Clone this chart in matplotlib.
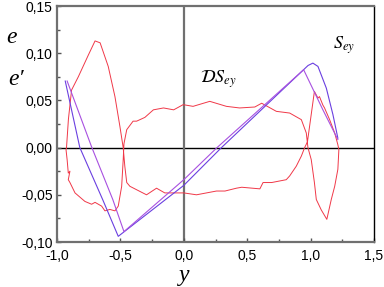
import matplotlib
matplotlib.use("Agg")
import matplotlib.pyplot as plt
from matplotlib.ticker import MultipleLocator, FuncFormatter

# DS_ey (red loop)
ds_x = [-0.925, -0.91, -0.885, -0.832, -0.753, -0.70, -0.66, -0.596, -0.543, -0.504, -0.478,
        -0.465, -0.45, -0.425, -0.294, -0.215, -0.15, 0.0, 0.1, 0.258, 0.325, 0.415, 0.457,
        0.6, 0.625, 0.693, 0.808, 0.835, 0.887, 0.927, 0.953, 0.975, 1.03, 1.058, 1.07,
        1.097, 1.11, 1.15, 1.19, 1.215, 1.223, 1.215, 1.19, 1.163, 1.128, 1.084, 1.045,
        1.03, 1.005, 0.979, 0.966, 0.927, 0.835, 0.73, 0.614, 0.56, 0.44, 0.336, 0.205,
        0.073, -0.005, -0.08, -0.16, -0.24, -0.307, -0.372, -0.40, -0.45, -0.472, -0.478,
        -0.49, -0.517, -0.543, -0.583, -0.622, -0.648, -0.70, -0.727, -0.78, -0.858, -0.898,
        -0.911, -0.898, -0.911, -0.92, -0.929, -0.925]
ds_y = [0.0, 0.030, 0.061, 0.075, 0.098, 0.113, 0.111, 0.086, 0.054, 0.0225, 0.0,
        -0.02, -0.037, -0.041, -0.050, -0.043, -0.048, -0.048, -0.050, -0.046, -0.046, -0.043, -0.042,
        -0.0437, -0.037, -0.037, -0.034, -0.030, -0.0197, -0.009, 0.0, 0.006, 0.0595, 0.0525, 0.054,
        0.045, 0.042, 0.0296, 0.0155, 0.003, -0.002, -0.023, -0.041, -0.055, -0.076, -0.066, -0.055,
        -0.037, -0.0127, 0.0, 0.0155, 0.0296, 0.0366, 0.0384, 0.047, 0.043, 0.042, 0.0437, 0.049,
        0.0437, 0.0455, 0.040, 0.042, 0.040, 0.032, 0.028, 0.028, 0.019, 0.004, -0.013,
        -0.041, -0.062, -0.067, -0.0655, -0.067, -0.062, -0.058, -0.060, -0.057, -0.048, -0.037,
        -0.034, -0.025, -0.027, -0.013, -0.002, 0.0]

# S_ey (two violet curves)
s1_x = [-0.935, -0.82, -0.64, -0.517, 0.0, 0.297, 0.98, 1.018, 1.058, 1.124, 1.176, 1.215]
s1_y = [0.0705, 0.0, -0.055, -0.094, -0.040, 0.0, 0.087, 0.0895, 0.086, 0.063, 0.035, 0.010]
s2_x = [-0.92, -0.725, -0.56, -0.472, 0.0, 0.262, 0.945, 1.097, 1.215]
s2_y = [0.0705, 0.0, -0.055, -0.089, -0.034, 0.0, 0.0825, 0.040, 0.0085]

plt.rcParams['mathtext.fontset'] = 'stix'

fig = plt.figure(figsize=(3.84, 2.87), dpi=100)
ax = fig.add_axes([57/384, 45/287, 317/384, 236/287])

ax.axhline(0, color='black', lw=1.0, zorder=1)
ax.axvline(0, color='#707070', lw=1.6, zorder=1)

ax.plot(ds_x, ds_y, color='#f03848', lw=0.7)
ax.plot(s1_x, s1_y, color='#6a3fe0', lw=0.8)
ax.plot(s2_x, s2_y, color='#a850e0', lw=0.8)

ax.set_xlim(-1.0, 1.5)
ax.set_ylim(-0.10, 0.15)
ax.xaxis.set_major_locator(MultipleLocator(0.5))
ax.xaxis.set_minor_locator(MultipleLocator(0.25))
ax.yaxis.set_major_locator(MultipleLocator(0.05))
ax.yaxis.set_minor_locator(MultipleLocator(0.025))
ax.xaxis.set_major_formatter(FuncFormatter(lambda v, p: f"{v:.1f}".replace('.', ',')))
ax.yaxis.set_major_formatter(FuncFormatter(lambda v, p: f"{v:.2f}".replace('.', ',')))
ax.tick_params(which='both', direction='in', top=False, right=False, colors='#555555',
               labelcolor='black', labelsize=10)
ax.tick_params(axis='x', pad=5)
ax.tick_params(axis='y', pad=3)
ax.tick_params(which='major', length=3, width=1)
ax.tick_params(which='minor', length=2, width=1)
for lab in ax.get_xticklabels() + ax.get_yticklabels():
    lab.set_family('Liberation Sans')

for s in ['left', 'bottom', 'top']:
    ax.spines[s].set_color('#707070')
    ax.spines[s].set_linewidth(1.6)
ax.spines['right'].set_color('black')
ax.spines['right'].set_linewidth(1.0)

ax.text(0.27, 0.072, r'$\mathcal{D}S_{ey}$', fontsize=13, ha='center', va='center')
ax.text(1.26, 0.108, r'$S_{ey}$', fontsize=13, ha='center', va='center')
fig.text(12/384, 1-37/287, 'e', fontsize=17, family='Liberation Serif', style='italic',
         ha='center', va='center')
fig.text(16/384, 1-80/287, 'e\u2032', fontsize=17, family='Liberation Serif', style='italic',
         ha='center', va='center')
fig.text(184/384, 1-276/287, 'y', fontsize=17, family='Liberation Serif', style='italic',
         ha='center', va='center')

fig.savefig('out.png', dpi=100)
